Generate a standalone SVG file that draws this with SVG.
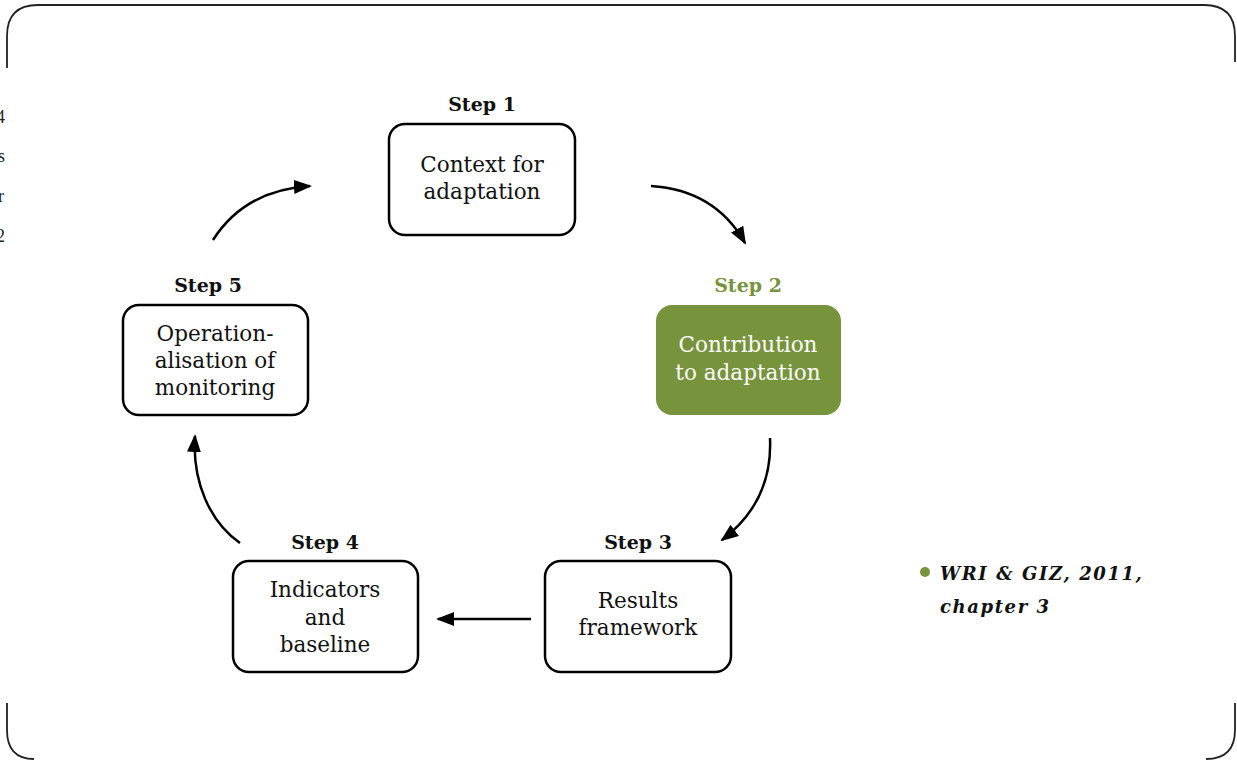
<svg xmlns="http://www.w3.org/2000/svg" width="1237" height="760" viewBox="0 0 1237 760">
<style>
.box{fill:#fff;stroke:#000;stroke-width:2.5}
.t{font-family:"DejaVu Serif","Liberation Serif",serif;font-size:21.5px;text-anchor:middle;fill:#111}
.s{font-family:"DejaVu Serif","Liberation Serif",serif;font-size:19px;font-weight:bold;text-anchor:middle;fill:#111}
.c{fill:none;stroke:#000;stroke-width:2.5}
.frame{fill:none;stroke:#222;stroke-width:1.8}
.m{font-family:"Liberation Serif",serif;font-size:18px;fill:#222;text-anchor:end}
.cite{font-family:"DejaVu Serif","Liberation Serif",serif;font-size:18px;font-style:italic;font-weight:bold;letter-spacing:1.6px;fill:#111}
</style>
<defs>
<marker id="ah" markerUnits="userSpaceOnUse" markerWidth="20" markerHeight="16" refX="16" refY="7" orient="auto">
<path d="M0,0 L18,7 L0,14 Z" fill="#000"/>
</marker>
</defs>
<g id="frame">
<path class="frame" d="M7,68 L7,36 Q7,5 38,5 L1204,5 Q1235,5 1235,36 L1235,62"/>
<path class="frame" d="M7,703 L7,730 Q7,759 34,759"/>
<path class="frame" d="M1235,703 L1235,730 Q1235,759 1206,759"/>
</g>
<g id="margin">
<text class="m" x="5" y="123">4</text>
<text class="m" x="5" y="162">s</text>
<text class="m" x="4" y="202">r</text>
<text class="m" x="5" y="242">2</text>
</g>
<g id="connectors">
<path class="c" d="M651,186 Q715,190 745,243" marker-end="url(#ah)"/>
<path class="c" d="M770,438 C772,482 755,515 722,540" marker-end="url(#ah)"/>
<path class="c" d="M531,619 L438,619" marker-end="url(#ah)"/>
<path class="c" d="M240,543 C210,522 192,482 195,436" marker-end="url(#ah)"/>
<path class="c" d="M213,240 Q245,190 310,186" marker-end="url(#ah)"/>
</g>
<g id="step1">
<text class="s" x="482" y="111">Step 1</text>
<rect class="box" x="389" y="124" width="186" height="111" rx="16"/>
<text class="t" x="482" y="172">Context for</text>
<text class="t" x="482" y="199">adaptation</text>
</g>
<g id="step2">
<text class="s" x="748" y="292" style="fill:#77933c">Step 2</text>
<rect x="656" y="305" width="185" height="110" rx="16" fill="#77933c"/>
<text class="t" x="748" y="352" style="fill:#fff">Contribution</text>
<text class="t" x="748" y="380" style="fill:#fff">to adaptation</text>
</g>
<g id="step3">
<text class="s" x="638" y="549">Step 3</text>
<rect class="box" x="545" y="561" width="186" height="111" rx="16"/>
<text class="t" x="638" y="608">Results</text>
<text class="t" x="638" y="635">framework</text>
</g>
<g id="step4">
<text class="s" x="325" y="549">Step 4</text>
<rect class="box" x="233" y="561" width="185" height="111" rx="16"/>
<text class="t" x="325" y="597">Indicators</text>
<text class="t" x="325" y="625">and</text>
<text class="t" x="325" y="652">baseline</text>
</g>
<g id="step5">
<text class="s" x="208" y="292">Step 5</text>
<rect class="box" x="123" y="305" width="185" height="110" rx="16"/>
<text class="t" x="215" y="341">Operation-</text>
<text class="t" x="215" y="368">alisation of</text>
<text class="t" x="215" y="395">monitoring</text>
</g>
<g id="citation">
<circle cx="925" cy="572" r="5" fill="#77933c"/>
<text class="cite" x="940" y="580">WRI &amp; GIZ, 2011,</text>
<text class="cite" x="940" y="613">chapter 3</text>
</g>
</svg>
